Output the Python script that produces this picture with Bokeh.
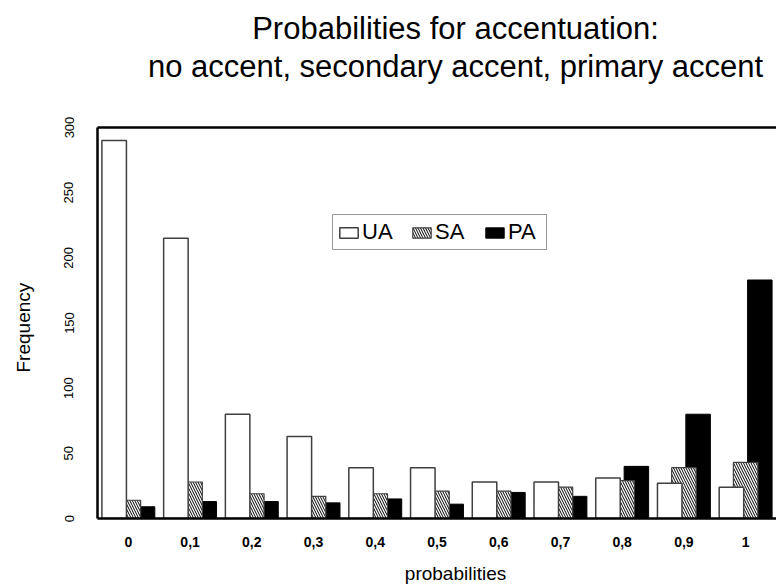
from bokeh.plotting import figure
from bokeh.models import (Range1d, FixedTicker, LinearAxis, Legend, LegendItem,
                          Title, ColumnDataSource)
from bokeh.transform import dodge
from bokeh.embed import file_html
from bokeh.resources import INLINE

# ---- data ----
categories = ["0", "0,1", "0,2", "0,3", "0,4", "0,5", "0,6", "0,7", "0,8", "0,9", "1"]
ua = [290, 215, 80, 63, 39, 39, 28, 28, 31, 27, 24]
sa = [14, 28, 19, 17, 19, 21, 21, 24, 29, 39, 43]
pa = [9, 13, 13, 12, 15, 11, 20, 17, 40, 80, 183]
y_ticks = [0, 50, 100, 150, 200, 250, 300]
series_names = ["UA", "SA", "PA"]
title_lines = ["Probabilities for accentuation:",
               "no accent, secondary accent, primary accent"]
x_title = "probabilities"
y_title = "Frequency"

FONT = "Liberation Sans"
xs = list(range(len(categories)))
src = ColumnDataSource(dict(x=xs, ua=ua, sa=sa, pa=pa))

p = figure(width=776, height=584,
           x_range=Range1d(-0.5, 10.5), y_range=Range1d(0, 300),
           output_backend="svg", toolbar_location=None,
           min_border_left=97, min_border_right=0,
           min_border_top=127, min_border_bottom=66,
           outline_line_color=None,
           background_fill_color="white", border_fill_color="white")
p.title.visible = False
p.xgrid.visible = False
p.ygrid.visible = False

BW = 0.397
OFF = 0.23
r_pa = p.vbar(x=dodge("x", OFF), top="pa", width=BW, source=src,
              fill_color="black", line_color="black", line_width=1)
r_sa = p.vbar(x=dodge("x", 0.0), top="sa", width=BW, source=src,
              fill_color="white", hatch_pattern="\\", hatch_color="black",
              hatch_scale=5, hatch_weight=1,
              line_color="#404040", line_width=1.2)
r_ua = p.vbar(x=dodge("x", -OFF), top="ua", width=BW, source=src,
              fill_color="white", line_color="#404040", line_width=1.5)

# y axis
ya = p.yaxis[0]
ya.ticker = FixedTicker(ticks=y_ticks, minor_ticks=[])
ya.major_label_orientation = "vertical"
ya.major_tick_out = 0
ya.major_tick_in = 0
ya.minor_tick_out = 0
ya.minor_tick_in = 0
ya.axis_line_width = 2.5
ya.axis_line_color = "black"
ya.major_label_text_font_size = "13px"
ya.major_label_text_font = FONT
ya.major_label_text_color = "black"
ya.major_label_standoff = 24

# x axis
xa = p.xaxis[0]
xa.ticker = FixedTicker(ticks=xs, minor_ticks=[])
xa.major_label_overrides = {i: c for i, c in zip(xs, categories)}
xa.major_tick_out = 0
xa.major_tick_in = 0
xa.minor_tick_out = 0
xa.minor_tick_in = 0
xa.axis_line_width = 2.5
xa.axis_line_color = "black"
xa.major_label_text_font_size = "14px"
xa.major_label_text_font_style = "bold"
xa.major_label_text_font = FONT
xa.major_label_text_color = "black"
xa.major_label_standoff = 18

# top border line
top = LinearAxis(ticker=FixedTicker(ticks=[], minor_ticks=[]),
                 axis_line_width=2.5, axis_line_color="black",
                 major_tick_out=0, major_tick_in=0,
                 minor_tick_out=0, minor_tick_in=0,
                 major_label_text_font_size="0px")
p.add_layout(top, "above")


def spacer(side, size):
    p.add_layout(Title(text=" ", text_font_size="1px", text_line_height=1.0,
                       standoff=size), side)


def ttl(side, text, size, align, offset, standoff=2):
    p.add_layout(Title(text=text, align=align, offset=offset,
                       text_font=FONT, text_font_size=f"{size}px",
                       text_line_height=1.0,
                       text_font_style="normal", text_color="black",
                       standoff=standoff), side)


# titles (left-aligned with offsets so that they centre at x~455)
TFS = 31
title_em = [13.117, 19.842]   # Arial widths of the two lines in em
CX = 455
spacer("above", 40)
ttl("above", title_lines[1], TFS, "left", CX - title_em[1] * TFS / 2 - 97)
ttl("above", title_lines[0], TFS, "left", CX - title_em[0] * TFS / 2 - 97, standoff=0)

# x-axis title
spacer("below", 7)
ttl("below", x_title, 19, "left", 455 - 5.335 * 19 / 2 - 97)

# y-axis title
spacer("left", 24)
ttl("left", y_title, 19, "left", 518 - 372)

legend = Legend(items=[LegendItem(label=series_names[0], renderers=[r_ua]),
                       LegendItem(label=series_names[1], renderers=[r_sa]),
                       LegendItem(label=series_names[2], renderers=[r_pa])],
                orientation="horizontal", location=(235, 268),
                label_text_font_size="22px", label_text_font=FONT,
                label_text_color="black", label_width=34,
                glyph_width=23, glyph_height=13, label_standoff=2,
                spacing=14, padding=4, margin=0,
                border_line_color="#333333", border_line_width=1.5,
                background_fill_color="white", background_fill_alpha=1)
p.add_layout(legend)

open("out.html", "w").write(file_html(p, INLINE))
